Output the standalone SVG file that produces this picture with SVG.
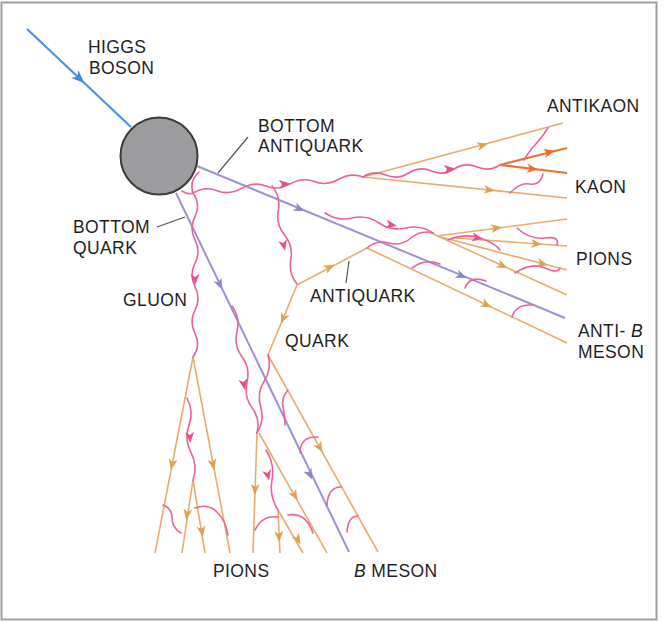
<svg xmlns="http://www.w3.org/2000/svg" xmlns:xlink="http://www.w3.org/1999/xlink" width="664" height="623" viewBox="0 0 664 623">
  <style>
    .lbl { font-family: "Liberation Sans", Arial, sans-serif; font-size: 17.5px; letter-spacing: 0.4px; fill: #1f1f1f; }
    .q { fill: none; stroke: #e9ac6a; stroke-width: 1.6; }
    .r { fill: none; stroke: #ea7434; stroke-width: 2.2; }
    .b { fill: none; stroke: #9a92d2; stroke-width: 2; }
    .g { fill: none; stroke: #e8629e; stroke-width: 1.6; stroke-linecap: round; }
    .lead { fill: none; stroke: #555; stroke-width: 1.2; }
    .aq { fill: #e3a04e; }
    .ar { fill: #ea6a26; }
    .ab { fill: #8c84cc; }
    .ag { fill: #e6508f; }
    .ah { fill: #3f8be0; }
  </style>
  <defs>
    <path id="ah" d="M-6,-4.5 L5,0 L-6,4.5 L-3,0 Z"/>
  </defs>

  <!-- frame -->
  <rect x="1.5" y="2.5" width="655" height="617" fill="#fff" stroke="#a0a0a0" stroke-width="2"/>

  <!-- incoming Higgs boson -->
  <g id="higgs">
    <line x1="27" y1="29" x2="131" y2="127" stroke="#4a92e2" stroke-width="2.2"/>
    <use xlink:href="#ah" class="ah" transform="translate(80,79) rotate(43.3) scale(1.2)"/>
  </g>

  <!-- decay vertex -->
  <g id="vertex">
    <circle cx="159" cy="156" r="38.5" fill="#9c9c9e" stroke="#3a3a3a" stroke-width="2"/>
  </g>

  <g id="connectors">
    <!-- bottom antiquark and bottom quark -->
    <line class="b" x1="197" y1="166" x2="565" y2="318"/>
    <line class="b" x1="176" y1="193" x2="349" y2="552"/>

    <!-- quark lines -->
    <line class="q" x1="363" y1="177" x2="563" y2="123"/>
    <line class="q" x1="363" y1="177" x2="567" y2="198"/>
    <line class="r" x1="500" y1="165" x2="567" y2="148"/>
    <line class="r" x1="500" y1="165" x2="567" y2="173"/>
    <line class="q" x1="297" y1="285" x2="367" y2="248"/>
    <line class="q" x1="367" y1="248" x2="567" y2="343"/>
    <line class="q" x1="297" y1="285" x2="268" y2="355"/>
    <line class="q" x1="268" y1="355" x2="378" y2="552"/>
    <line class="q" x1="193" y1="357" x2="155" y2="553"/>
    <line class="q" x1="193" y1="357" x2="230" y2="553"/>
    <line class="q" x1="193" y1="480" x2="182" y2="553"/>
    <line class="q" x1="193" y1="480" x2="205" y2="553"/>
    <line class="q" x1="257" y1="433" x2="253" y2="553"/>
    <line class="q" x1="259" y1="433" x2="327" y2="553"/>
    <line class="q" x1="278" y1="510" x2="280" y2="553"/>
    <line class="q" x1="278" y1="510" x2="303" y2="553"/>
    <!-- pion lines, right -->
    <line class="q" x1="437" y1="236" x2="567" y2="219"/>
    <line class="q" x1="456" y1="238" x2="567" y2="246"/>
    <line class="q" x1="437" y1="236" x2="567" y2="270"/>
    <line class="q" x1="431" y1="233" x2="567" y2="295"/>

    <!-- gluons -->
    <path class="g" d="M182,191 Q188,195 193,193 M199,172 Q189,181 193,193"/>
    <path class="g" d="M193,193 Q205.7,185.9 217.3,190.7 T241.6,188.4 T265.9,186.1 T290.1,183.9 T314.4,181.6 T338.7,179.3 T363,177"/>
    <path class="g" d="M363,177 Q373.9,170 385.8,175 T408.7,173 T431.5,171 T454.3,169 T477.2,167 T500,165"/>
    <path class="g" d="M193,193 Q201,204.7 195,216.4 T195,239.9 T195,263.3 T195,286.7 T195,310.1 T195,333.6 T193,357"/>
    <path class="g" d="M272,186 Q280.9,196.8 278.3,210.5 T284.5,235 T290.8,259.5 T297,284"/>
    <path class="g" d="M232,306 Q240.4,317.5 237,331.4 T242,356.8 T247,382.2 T252,407.6 T257,433"/>
    <path class="g" d="M268,355 Q272.1,368.8 264.3,381 T260.7,407 T257,433"/>
    <path class="g" d="M187,398 Q194,411.5 189,425.3 T191,452.7 T193,480"/>
    <path class="g" d="M266,450 Q274.9,463.8 272,480 T278,510"/>
    <path class="g" d="M325,213 Q337.4,221.4 352,218 T379,223 T406,228 T433,233"/>
    <path class="g" d="M367,248 Q376.7,239.7 389,243 T411,238 T433,233"/>
    <path class="g" d="M548,128 Q540,140 535,145 T524,160"/>
    <path class="g" d="M510,193 Q520,182 530,184 T543,174"/>
    <path class="g" d="M517,228 Q530,240 545,238 T557,245"/>
    <path class="g" d="M448,240 Q465,233 480,238 T500,250"/>
    <path class="g" d="M515,273 Q532,262 545,268 T560,268"/>
    <path class="g" d="M163,505 Q172,508 172,518 T181,533"/>
    <path class="g" d="M195,508 Q208,503 217,512 T228,535"/>
    <path class="g" d="M255,530 Q262,515 278,517"/>
    <path class="g" d="M288,515 Q306,512 313,533"/>
    <path class="g" d="M288,390 Q281,398 283,407 T285,425"/>
    <path class="g" d="M300,453 Q300,436 318,437"/>
    <path class="g" d="M327,505 Q328,487 341,487"/>
    <path class="g" d="M347,532 Q348,516 358,516"/>
    <path class="g" d="M412,268 Q425,258 440,264"/>
    <path class="g" d="M465,288 Q470,275 486,281"/>
    <path class="g" d="M512,317 Q516,304 532,305"/>

    <!-- arrowheads -->
    <use xlink:href="#ah" class="ab" transform="translate(300,209) rotate(22.4)"/>
    <use xlink:href="#ah" class="ab" transform="translate(462,276) rotate(22.4)"/>
    <use xlink:href="#ah" class="ab" transform="translate(220,285) rotate(64.3)"/>
    <use xlink:href="#ah" class="ab" transform="translate(310,475) rotate(64.3)"/>
    <use xlink:href="#ah" class="aq" transform="translate(483,145) rotate(-15.1)"/>
    <use xlink:href="#ah" class="aq" transform="translate(490,190) rotate(5.9)"/>
    <use xlink:href="#ah" class="ar" transform="translate(550,152) rotate(-14.2)"/>
    <use xlink:href="#ah" class="ar" transform="translate(533,169) rotate(6.8)"/>
    <use xlink:href="#ah" class="aq" transform="translate(330,267) rotate(-27.9)"/>
    <use xlink:href="#ah" class="aq" transform="translate(487,305) rotate(25.4)"/>
    <use xlink:href="#ah" class="aq" transform="translate(283,319) rotate(112.5)"/>
    <use xlink:href="#ah" class="aq" transform="translate(320,448) rotate(60.8)"/>
    <use xlink:href="#ah" class="aq" transform="translate(172,465) rotate(101)"/>
    <use xlink:href="#ah" class="aq" transform="translate(213,465) rotate(79.3)"/>
    <use xlink:href="#ah" class="aq" transform="translate(187,515) rotate(98.6)"/>
    <use xlink:href="#ah" class="aq" transform="translate(202,532) rotate(80.7)"/>
    <use xlink:href="#ah" class="aq" transform="translate(255,490) rotate(91.9)"/>
    <use xlink:href="#ah" class="aq" transform="translate(295,496) rotate(60.8)"/>
    <use xlink:href="#ah" class="aq" transform="translate(279,537) rotate(87.3)"/>
    <use xlink:href="#ah" class="aq" transform="translate(298,540) rotate(59.8)"/>
    <use xlink:href="#ah" class="aq" transform="translate(497,228) rotate(-7.5)"/>
    <use xlink:href="#ah" class="aq" transform="translate(537,244) rotate(4)"/>
    <use xlink:href="#ah" class="aq" transform="translate(503,266) rotate(24.5)"/>
    <use xlink:href="#ah" class="aq" transform="translate(543,264) rotate(14.7)"/>
    <use xlink:href="#ah" class="ag" transform="translate(285,184) rotate(-5)"/>
    <use xlink:href="#ah" class="ag" transform="translate(450,169) rotate(-5)"/>
    <use xlink:href="#ah" class="ag" transform="translate(195,280) rotate(90)"/>
    <use xlink:href="#ah" class="ag" transform="translate(284,246) rotate(76)"/>
    <use xlink:href="#ah" class="ag" transform="translate(244,385) rotate(79)"/>
    <use xlink:href="#ah" class="ag" transform="translate(190,438) rotate(86)"/>
    <use xlink:href="#ah" class="ag" transform="translate(268,476) rotate(76)"/>
    <use xlink:href="#ah" class="ag" transform="translate(392,225) rotate(10)"/>
    <use xlink:href="#ah" class="ag" transform="translate(478,238) rotate(10)"/>

    <!-- leader lines -->
    <line class="lead" x1="218" y1="173" x2="248" y2="137"/>
    <line class="lead" x1="157" y1="227" x2="185" y2="217"/>
    <line class="lead" x1="349" y1="261" x2="346" y2="283"/>
  </g>

  <!-- labels -->
  <g id="labels">
    <text class="lbl" x="88" y="53">HIGGS</text>
    <text class="lbl" x="89" y="74">BOSON</text>
    <text class="lbl" x="258" y="132">BOTTOM</text>
    <text class="lbl" x="258" y="152">ANTIQUARK</text>
    <text class="lbl" x="73" y="233">BOTTOM</text>
    <text class="lbl" x="73" y="254">QUARK</text>
    <text class="lbl" x="123" y="306">GLUON</text>
    <text class="lbl" x="310" y="302">ANTIQUARK</text>
    <text class="lbl" x="285" y="347">QUARK</text>
    <text class="lbl" x="547" y="112">ANTIKAON</text>
    <text class="lbl" x="575" y="193">KAON</text>
    <text class="lbl" x="576" y="265">PIONS</text>
    <text class="lbl" x="578" y="337">ANTI- <tspan font-style="italic">B</tspan></text>
    <text class="lbl" x="578" y="358">MESON</text>
    <text class="lbl" x="213" y="577">PIONS</text>
    <text class="lbl" x="354" y="577"><tspan font-style="italic">B</tspan> MESON</text>
  </g>
</svg>
